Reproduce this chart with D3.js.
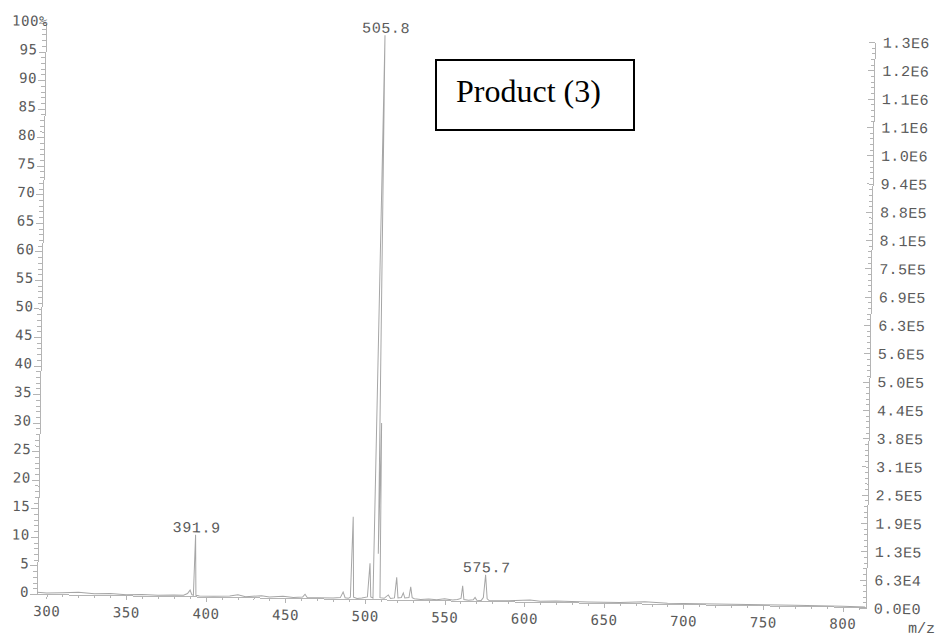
<!DOCTYPE html>
<html>
<head>
  <meta charset="utf-8">
  <title>Product (3) mass spectrum</title>
  <script src="https://d3js.org/d3.v7.min.js"></script>
  <style>
    body { margin: 0; background: #fff; }
    .spectrum { fill: none; stroke: #a6a6a6; stroke-width: 1px; }
    .axis path, .axis line { stroke: #b4b4b4; shape-rendering: crispEdges; }
    .lab { fill: #5a5a5a; }
  </style>
</head>
<body>
<script>
  // profile of the spectrum (m/z, % of base peak)
  var profileMz  = [294, 300, 310, 320, 330, 340, 350, 360, 370, 380, 386, 388.5, 390.1, 391.2, 392.2, 393.0, 393.8,
                    396, 405, 415, 420.2, 425, 435, 440, 448.5, 455, 460.8, 462.3, 463.8, 470, 480, 484.5, 486.2, 487.5,
                    489.5, 490.8, 491.8, 492.8, 495, 498, 501.5, 502.8, 503.6, 504.4, 505.0, 507.0, 507.9, 508.7, 509.4,
                    512, 514.6, 516, 518.5, 519.7, 520.7, 522.8, 524.0, 525.0, 527.6, 528.6, 529.6, 531, 535, 540, 545,
                    550, 555, 558, 560.3, 561.2, 562.1, 565, 568, 569.1, 570.2, 573, 574.3, 575.5, 576.7, 578, 590,
                    603.6, 610, 620, 640, 660, 675.8, 690, 710, 740, 770, 800, 814];
  var profilePct = [0.3, 0.2, 0.3, 0.4, 0.2, 0.3, 0.1, 0.2, 0.1, 0.2, 0.2, 0.5, 1.1, 0.3, 0.2, 10.8, 0.2,
                    0.1, 0.1, 0.2, 0.4, 0.1, 0.3, 0.1, 0.3, 0.1, 0.2, 0.7, 0.1, 0.1, 0.1, 0.2, 1.2, 0.2,
                    0.1, 0.3, 14.4, 0.3, 0.1, 0.2, 0.4, 6.3, 0.4, 0.3, 0.2, 98.8, 8, 30.9, 0.3,
                    0.2, 0.8, 0.2, 0.3, 3.9, 0.3, 0.4, 1.2, 0.3, 0.4, 2.3, 0.4, 0.2, 0.1, 0.2, 0.1,
                    0.3, 0.1, 0.2, 0.4, 2.6, 0.2, 0.1, 0.2, 0.6, 0.1, 0.1, 0.6, 4.6, 0.4, 0.1, 0.1,
                    0.3, 0.1, 0.2, 0.1, 0.1, 0.3, 0.1, 0.1, 0.1, 0.1, 0.05, 0];

  // annotated peaks
  var labelMz   = [393.0, 507.0, 575.5];
  var labelPct  = [10.8, 98.8, 4.6];
  var labelText = ["391.9", "505.8", "575.7"];

  // axes
  var mzTicks    = [300, 350, 400, 450, 500, 550, 600, 650, 700, 750, 800];
  var pctTicks   = [0, 5, 10, 15, 20, 25, 30, 35, 40, 45, 50, 55, 60, 65, 70, 75, 80, 85, 90, 95, 100];
  var pctLabels  = ["0", "5", "10", "15", "20", "25", "30", "35", "40", "45", "50", "55", "60", "65", "70",
                    "75", "80", "85", "90", "95", "100%"];
  var countLabels = ["0.0E0", "6.3E4", "1.3E5", "1.9E5", "2.5E5", "3.1E5", "3.8E5", "4.4E5", "5.0E5", "5.6E5",
                     "6.3E5", "6.9E5", "7.5E5", "8.1E5", "8.8E5", "9.4E5", "1.0E6", "1.1E6", "1.1E6", "1.2E6", "1.3E6"];
  var maxCounts = 1.252e6;

  var width = 941, height = 638;
  var svg = d3.select("body").append("svg")
      .attr("width", width)
      .attr("height", height);

  // the scan is tilted a little, so the plot sits in a rotated group
  var g = svg.append("g").attr("transform", "rotate(0.9,37,594)");

  var x = d3.scaleLinear().domain([294, 814.6]).range([37, 866]);
  var y = d3.scaleLinear().domain([0, 100]).range([594, 23]);
  var yc = d3.scaleLinear().domain([0, maxCounts]).range([595, 29]);

  // left axis (%)
  g.append("g").attr("class", "axis")
      .attr("transform", "translate(37,0)")
      .call(d3.axisLeft(y).tickValues(d3.range(0, 101, 1)).tickSize(4).tickSizeOuter(0).tickFormat(""));
  var left = g.append("g").attr("class", "axis")
      .attr("transform", "translate(37,0)")
      .call(d3.axisLeft(y).tickValues(pctTicks).tickSize(7).tickPadding(1).tickSizeOuter(0)
              .tickFormat(function(d, i) { return pctLabels[i]; }));
  left.select(".domain").remove();
  left.selectAll("text")
      .attr("class", "lab")
      .attr("y", -2)
      .style("font", "14px 'DejaVu Sans Mono'")
      .style("letter-spacing", "0.6px")
      .style("fill", "#5a5a5a");
  left.selectAll("text").filter(function(d) { return d === 100; })
      .attr("text-anchor", "start").attr("x", -34);

  // bottom axis (m/z)
  g.append("g").attr("class", "axis")
      .attr("transform", "translate(0,594)")
      .call(d3.axisBottom(x).tickValues(d3.range(300, 811, 10)).tickSize(3).tickSizeOuter(0).tickFormat(""));
  var bottom = g.append("g").attr("class", "axis")
      .attr("transform", "translate(0,594)")
      .call(d3.axisBottom(x).tickValues(mzTicks).tickSize(5).tickPadding(7).tickSizeOuter(0));
  bottom.select(".domain").remove();
  bottom.selectAll("text")
      .style("font", "14px 'DejaVu Sans Mono'")
      .style("letter-spacing", "0.6px")
      .style("fill", "#5a5a5a");

  // right axis (counts)
  var countTicks = countLabels.map(function(d, i) { return i * maxCounts / 20; });
  g.append("g").attr("class", "axis")
      .attr("transform", "translate(866,0)")
      .call(d3.axisRight(yc).tickValues(d3.range(0, 101, 1).map(function(p) { return p * maxCounts / 100; }))
              .tickSize(-3).tickSizeOuter(0).tickFormat(""));
  var right = g.append("g").attr("class", "axis")
      .attr("transform", "translate(866,0)")
      .call(d3.axisRight(yc).tickValues(countTicks).tickSize(-6).tickPadding(8).tickSizeOuter(0)
              .tickFormat(function(d, i) { return countLabels[i]; }));
  right.select(".domain").remove();
  right.selectAll("text")
      .style("font", "15px 'Liberation Mono'")
      .style("letter-spacing", "0.4px")
      .style("fill", "#5a5a5a");

  g.append("text")
      .attr("x", 922).attr("y", 619)
      .attr("text-anchor", "middle")
      .style("font", "15px 'Liberation Mono'")
      .style("fill", "#5a5a5a")
      .text("m/z");

  // spectrum trace
  var pts = profileMz.map(function(m, i) { return {mz: m, pct: profilePct[i]}; });
  var line = d3.line()
      .x(function(d) { return x(d.mz); })
      .y(function(d) { return y(d.pct); });
  g.append("path")
      .datum(pts)
      .attr("class", "spectrum")
      .attr("d", line);

  // peak labels
  g.selectAll(".peak")
      .data(labelMz.map(function(m, i) { return {mz: m, pct: labelPct[i], t: labelText[i]}; }))
      .enter().append("text")
      .attr("class", "peak")
      .attr("x", function(d) { return x(d.mz) + 1; })
      .attr("y", function(d) { return y(d.pct) - 2.5; })
      .attr("text-anchor", "middle")
      .style("font", "15px 'Liberation Mono'")
      .style("letter-spacing", "0.6px")
      .style("fill", "#5a5a5a")
      .text(function(d) { return d.t; });

  // title box pasted on the scan
  svg.append("rect")
      .attr("x", 436).attr("y", 60)
      .attr("width", 198).attr("height", 70)
      .attr("fill", "#fff")
      .attr("stroke", "#000")
      .attr("stroke-width", 2);
  svg.append("text")
      .attr("x", 456).attr("y", 102)
      .style("font", "32px 'Liberation Serif'")
      .style("fill", "#000")
      .text("Product (3)");
</script>
</body>
</html>
